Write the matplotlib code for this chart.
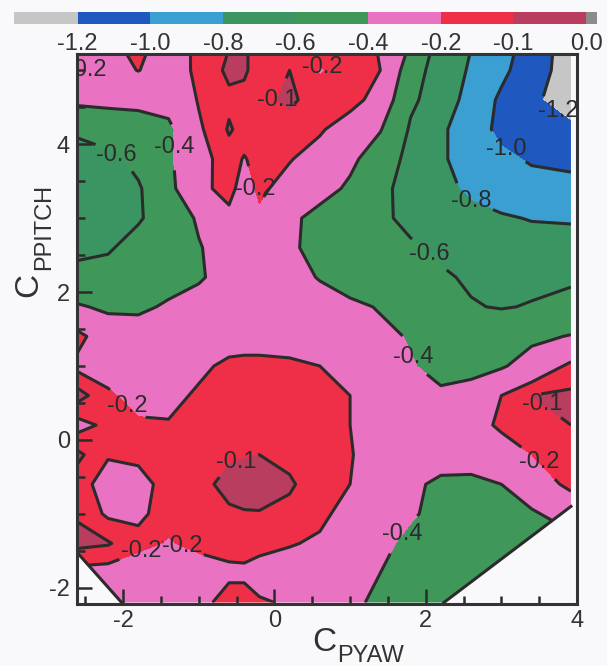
"""Contour map of the pressure coefficient over C_PYAW / C_PPITCH, saved as out.png."""

import matplotlib
matplotlib.use("Agg")
import matplotlib.pyplot as plt
from matplotlib.patches import Polygon
from matplotlib.ticker import MultipleLocator, FormatStrFormatter

plt.rcParams["font.family"] = ["Liberation Sans", "DejaVu Sans"]
plt.rcParams["axes.unicode_minus"] = False

# sample positions of the measured grid
YAW = [-2.62, -2.2, -1.8, -1.4, -1.0, -0.6, -0.4, -0.2, 0.2, 0.6,
       1.0, 1.4, 1.8, 2.2, 2.6, 3.0, 3.4, 3.92]
PITCH = [-2.2, -1.8, -1.4, -1.0, -0.6, -0.2, 0.2, 0.6, 1.0, 1.4,
         1.8, 2.2, 2.6, 3.0, 3.4, 3.8, 4.2, 4.6, 5.0, 5.3]

# coefficient values, one row per PITCH value
CP = [
    [-0.26, -0.26, -0.27, -0.28, -0.25, -0.14, -0.16, -0.19, -0.21, -0.30, -0.37, -0.43, -0.50, -0.52, -0.53, -0.53, -0.53, -0.53],
    [-0.24, -0.25, -0.27, -0.28, -0.26, -0.23, -0.22, -0.24, -0.27, -0.30, -0.34, -0.40, -0.47, -0.50, -0.50, -0.50, -0.50, -0.50],
    [-0.07, -0.09, -0.17, -0.21, -0.17, -0.15, -0.16, -0.17, -0.19, -0.22, -0.29, -0.36, -0.44, -0.48, -0.50, -0.50, -0.48, -0.45],
    [-0.11, -0.22, -0.22, -0.16, -0.14, -0.11, -0.105, -0.105, -0.12, -0.17, -0.25, -0.32, -0.38, -0.45, -0.50, -0.48, -0.42, -0.33],
    [-0.15, -0.25, -0.25, -0.15, -0.12, -0.08, -0.07, -0.06, -0.09, -0.14, -0.20, -0.30, -0.37, -0.43, -0.45, -0.40, -0.30, -0.16],
    [-0.07, -0.19, -0.17, -0.15, -0.13, -0.11, -0.105, -0.10, -0.12, -0.14, -0.19, -0.28, -0.33, -0.33, -0.30, -0.26, -0.20, -0.15],
    [-0.25, -0.17, -0.18, -0.19, -0.16, -0.13, -0.12, -0.12, -0.13, -0.15, -0.20, -0.30, -0.32, -0.31, -0.25, -0.18, -0.14, -0.10],
    [-0.05, -0.18, -0.25, -0.24, -0.18, -0.15, -0.14, -0.14, -0.14, -0.16, -0.20, -0.30, -0.36, -0.38, -0.34, -0.20, -0.10, -0.08],
    [-0.23, -0.26, -0.28, -0.27, -0.23, -0.17, -0.16, -0.16, -0.17, -0.20, -0.30, -0.34, -0.39, -0.44, -0.45, -0.42, -0.32, -0.17],
    [-0.15, -0.30, -0.32, -0.30, -0.28, -0.27, -0.27, -0.27, -0.28, -0.31, -0.34, -0.37, -0.41, -0.46, -0.48, -0.47, -0.44, -0.39],
    [-0.38, -0.43, -0.43, -0.38, -0.33, -0.30, -0.29, -0.28, -0.30, -0.33, -0.37, -0.41, -0.48, -0.54, -0.59, -0.61, -0.59, -0.56],
    [-0.55, -0.53, -0.50, -0.46, -0.42, -0.33, -0.31, -0.30, -0.34, -0.41, -0.47, -0.50, -0.54, -0.58, -0.62, -0.64, -0.64, -0.62],
    [-0.64, -0.62, -0.53, -0.47, -0.41, -0.33, -0.31, -0.30, -0.37, -0.46, -0.50, -0.54, -0.58, -0.63, -0.68, -0.70, -0.72, -0.72],
    [-0.68, -0.67, -0.62, -0.50, -0.38, -0.24, -0.28, -0.23, -0.36, -0.46, -0.50, -0.57, -0.64, -0.70, -0.74, -0.78, -0.81, -0.82],
    [-0.70, -0.68, -0.62, -0.45, -0.24, -0.15, -0.27, -0.17, -0.26, -0.33, -0.43, -0.56, -0.66, -0.74, -0.84, -0.90, -0.93, -0.95],
    [-0.68, -0.65, -0.55, -0.43, -0.25, -0.14, -0.21, -0.15, -0.19, -0.27, -0.36, -0.50, -0.65, -0.77, -0.90, -0.96, -1.02, -1.04],
    [-0.57, -0.50, -0.47, -0.44, -0.22, -0.09, -0.13, -0.11, -0.14, -0.18, -0.29, -0.39, -0.62, -0.77, -0.90, -1.05, -1.12, -1.17],
    [-0.36, -0.36, -0.36, -0.33, -0.19, -0.12, -0.12, -0.13, -0.08, -0.15, -0.14, -0.27, -0.57, -0.68, -0.88, -1.03, -1.17, -1.28],
    [-0.30, -0.27, -0.195, -0.28, -0.17, -0.08, -0.09, -0.13, -0.10, -0.21, -0.15, -0.20, -0.50, -0.70, -0.82, -0.96, -1.10, -1.30],
    [-0.30, -0.24, -0.16, -0.28, -0.17, -0.10, -0.09, -0.13, -0.12, -0.17, -0.13, -0.21, -0.42, -0.68, -0.80, -0.93, -1.08, -1.30],
]

LEVELS = [-1.4, -1.2, -1.0, -0.8, -0.6, -0.4, -0.2, -0.1, 0.0, 0.1]
COLORS = ["#c6c6c6", "#1f58bf", "#3b9fd2", "#3b9562", "#3f985a",
          "#ea72c2", "#ef2f48", "#b93d5e", "#8c8c8c"]
LINE_LEVELS = [-1.2, -1.0, -0.8, -0.6, -0.4, -0.2, -0.1]
CBAR_TICKS = [-1.2, -1.0, -0.8, -0.6, -0.4, -0.2, -0.1, 0.0]

# outline of the measured domain (both bottom corners are cut off)
DOMAIN_YAW = [-2.62, -2.62, -2.02, 2.24, 3.92, 3.92]
DOMAIN_PITCH = [5.3, -1.51, -2.2, -2.2, -0.9, 5.3]

# where the contour labels sit
LABEL_POS = [(3.73, 4.42), (3.03, 3.88), (2.60, 3.22), (2.07, 2.53),
             (1.82, 1.12), (1.78, -1.34), (3.46, -0.34), (3.55, 0.50),
             (-2.07, 3.89), (-1.33, 3.96), (-0.15, 4.50), (-0.33, 3.38),
             (0.61, 5.03), (-1.85, 0.57), (-0.53, -0.24),
             (-1.78, -1.46), (-1.23, -1.46)]

INK = "#2b2b2b"
BG = "#f9f9fb"


def main():
    fig = plt.figure(figsize=(6.07, 6.66), dpi=100, facecolor=BG)
    ax = fig.add_axes([77 / 607, 62 / 666, 500 / 607, 550 / 666], facecolor=BG)
    ax.set_xlim(-2.61, 3.99)
    ax.set_ylim(-2.22, 5.22)

    domain = Polygon(list(zip(DOMAIN_YAW, DOMAIN_PITCH)), closed=True,
                     transform=ax.transData)

    cf = ax.contourf(YAW, PITCH, CP, levels=LEVELS, colors=COLORS)
    cf.set_clip_path(domain)
    cs = ax.contour(YAW, PITCH, CP, levels=LINE_LEVELS, colors=INK,
                    linewidths=2.2, linestyles="solid")
    cs.set_clip_path(domain)
    ax.set_xlim(-2.61, 3.99)
    ax.set_ylim(-2.22, 5.22)
    labels = ax.clabel(cs, manual=LABEL_POS, inline=True, fmt="%.1f",
                       fontsize=17, colors=INK, inline_spacing=3)
    for t in labels:
        t.set_rotation(0)
    # label half hidden at the top-left edge
    ax.text(-2.22, 5.0, "-0.2", ha="right", va="center", fontsize=17,
            color=INK, clip_on=True)

    # cut corners of the domain
    ax.plot(DOMAIN_YAW[1:3], DOMAIN_PITCH[1:3], color=INK, lw=2.2)
    ax.plot(DOMAIN_YAW[3:5], DOMAIN_PITCH[3:5], color=INK, lw=2.2)

    ax.set_xticks([-2, 0, 2, 4])
    ax.set_yticks([-2, 0, 2, 4])
    ax.xaxis.set_minor_locator(MultipleLocator(0.5))
    ax.yaxis.set_minor_locator(MultipleLocator(0.5))
    ax.tick_params(which="both", direction="in", top=False, right=False,
                   width=1.8, color=INK, labelsize=17, labelcolor="#333333")
    ax.tick_params(which="major", length=11)
    ax.tick_params(which="minor", length=5.5)
    ax.tick_params(axis="x", pad=4.5)
    ax.tick_params(axis="y", pad=5)
    for sp in ax.spines.values():
        sp.set_linewidth(2.2)
        sp.set_color("#333333")

    # axis titles: big C with a subscript
    fig.text(312 / 607, 1 - 651 / 666, "C", fontsize=24, color="#333333",
             ha="left", va="baseline")
    fig.text(337 / 607, 1 - 662 / 666, "PYAW", fontsize=17, color="#333333",
             ha="left", va="baseline")
    fig.text(37 / 607, 1 - 297 / 666, "C", fontsize=24, color="#333333",
             rotation=90, rotation_mode="anchor", ha="left", va="baseline")
    fig.text(50 / 607, 1 - 270 / 666, "PPITCH", fontsize=17, color="#333333",
             rotation=90, rotation_mode="anchor", ha="left", va="baseline")

    # colour key along the top
    cax = fig.add_axes([13.6 / 607, 1 - 24 / 666, 583.4 / 607, 12.3 / 666])
    cb = fig.colorbar(cf, cax=cax, orientation="horizontal", ticks=CBAR_TICKS)
    cb.ax.set_xlim(-1.376, 0.015)
    cb.outline.set_visible(False)
    cb.ax.xaxis.set_major_formatter(FormatStrFormatter("%.1f"))
    cb.ax.tick_params(length=0, labelsize=17, pad=6.5, labelcolor="#333333")

    fig.savefig("out.png", dpi=100, facecolor=BG)


if __name__ == "__main__":
    main()
